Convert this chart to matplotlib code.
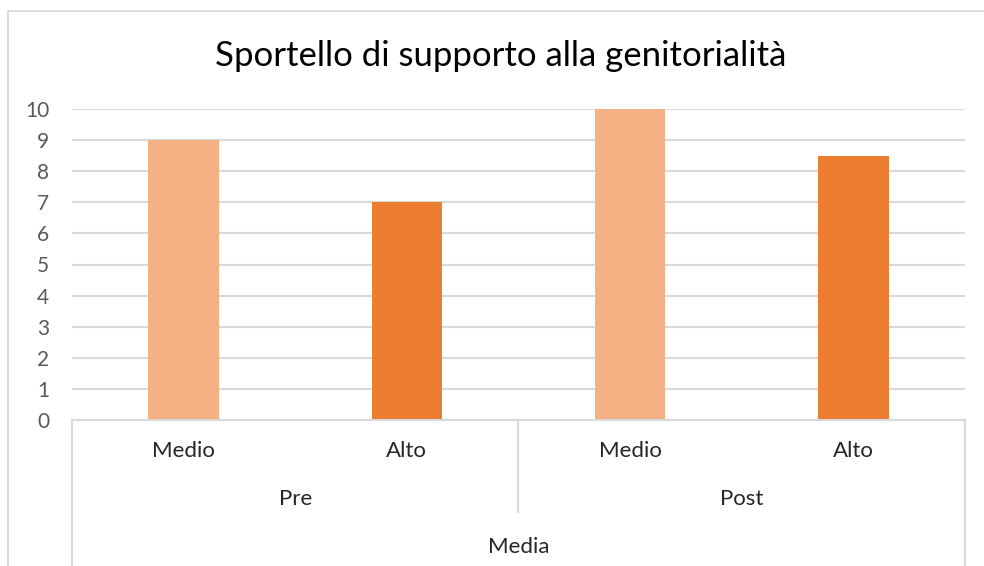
import matplotlib
matplotlib.use("Agg")
import matplotlib.pyplot as plt
from matplotlib.patches import Rectangle
from matplotlib.lines import Line2D

# Data
groups = ["Pre", "Post"]
levels = ["Medio", "Alto"]
values = [9, 7, 10, 8.5]
colors = ["#F4B183", "#ED7D31", "#F4B183", "#ED7D31"]
outer_label = "Media"
title = "Sportello di supporto alla genitorialità"
yticks = list(range(0, 11))

plt.rcParams["font.family"] = ["Lato", "DejaVu Sans"]

W, H = 984, 566
dpi = 100
fig = plt.figure(figsize=(W / dpi, H / dpi), dpi=dpi)

def fx(px):
    return px / W

def fy(py):
    return 1 - py / H

# Chart border
fig.patches.append(Rectangle((fx(8), fy(600)), fx(1100), fy(11) - fy(600),
                             transform=fig.transFigure, fill=False,
                             edgecolor="#D9D9D9", linewidth=1.3))

left, right, top, bottom = 72, 965, 109, 420
ax = fig.add_axes([fx(left), fy(bottom), fx(right - left), fy(top) - fy(bottom)])

n = len(values)
xs = list(range(n))
ax.bar(xs, values, width=0.315, color=colors, zorder=3)
ax.set_xlim(-0.5, n - 0.5)
ax.set_ylim(0, 10)
ax.set_yticks(yticks)
ax.set_yticklabels([str(t) for t in yticks], fontsize=15, color="#595959")
ax.tick_params(axis="y", length=0, pad=16.5)
ax.tick_params(axis="x", length=0, labelbottom=False)
ax.grid(axis="y", color="#D9D9D9", linewidth=1.5, zorder=0)
for s in ["top", "right", "left"]:
    ax.spines[s].set_visible(False)
ax.spines["bottom"].set_color("#D9D9D9")
ax.spines["bottom"].set_linewidth(1.5)
ax.spines["bottom"].set_zorder(4)

# Category tiers below the axis
px_to_pt = 72 / dpi
label_size = 16
inner = [levels[i % 2] for i in range(n)]
for x, lab in zip(xs, inner):
    ax.annotate(lab, xy=(x, 0), xycoords=("data", "axes fraction"),
                xytext=(0, -31 * px_to_pt), textcoords="offset points",
                ha="center", va="center", fontsize=label_size, color="#262626")
for gi, g in enumerate(groups):
    ax.annotate(g, xy=(gi * 2 + 0.5, 0), xycoords=("data", "axes fraction"),
                xytext=(0, -79 * px_to_pt), textcoords="offset points",
                ha="center", va="center", fontsize=label_size, color="#262626")
ax.annotate(outer_label, xy=((n - 1) / 2, 0), xycoords=("data", "axes fraction"),
            xytext=(0, -127 * px_to_pt), textcoords="offset points",
            ha="center", va="center", fontsize=label_size, color="#262626")

# Tier dividers
def vline(xd, depth_px):
    x_fig = fx(left) + (xd + 0.5) / n * fx(right - left)
    fig.add_artist(Line2D([x_fig, x_fig], [fy(bottom), fy(bottom + depth_px)],
                          transform=fig.transFigure, color="#D9D9D9",
                          linewidth=1.5))

vline(-0.5, 160)
vline(1.5, 92)
vline(3.5, 160)

fig.text(fx(501), fy(56), title, ha="center", va="center",
         fontsize=25, color="#000000")

fig.savefig("out.png", dpi=dpi)
